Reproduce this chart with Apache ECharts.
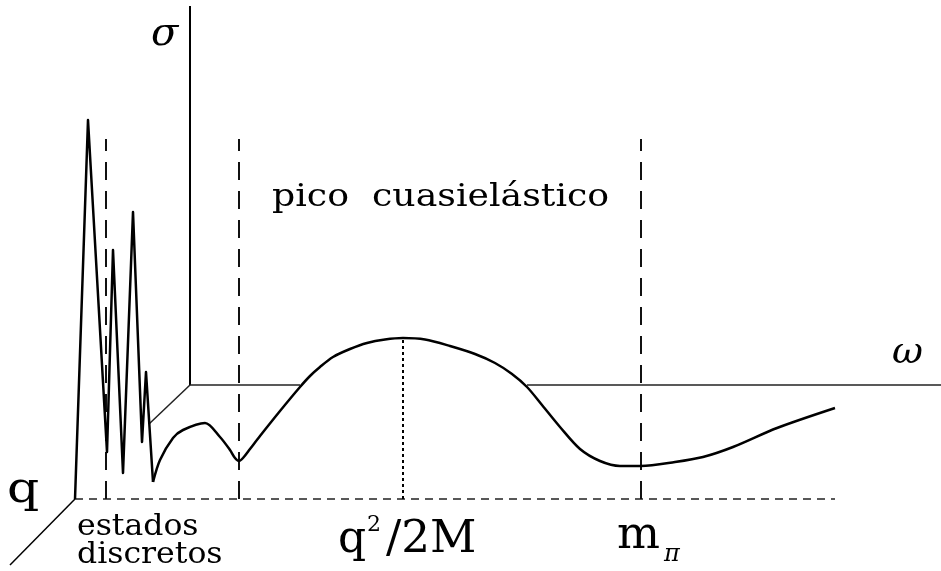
<!DOCTYPE html>
<html>
<head>
<meta charset="utf-8">
<script src="https://cdn.jsdelivr.net/npm/echarts@6/dist/echarts.min.js"></script>
<style>
  html, body { margin: 0; padding: 0; background: #fff; }
  #chart { width: 941px; height: 571px; }
</style>
</head>
<body>
<div id="chart"></div>
<script>
// omega / sigma measured from the front origin (q = 0 plane)
const peaksOmega = [0, 13, 32, 38, 48, 58, 67, 71, 78];
const peaksSigma = [0, 379, 47, 249, 26, 287, 57, 127, 17];

const contOmega = [78, 85, 98, 108, 130, 145, 155, 160, 164, 168, 175, 185, 205, 225, 235, 245, 258, 275, 292, 310, 328, 350, 375, 400, 420, 437, 452, 467, 485, 505, 525, 545, 566, 600, 628, 658, 702, 760];
const contSigma = [17, 39, 61, 69, 76, 62, 49, 41, 38, 41, 50, 63, 88, 112, 123, 132, 142, 150, 156, 159.5, 161, 159.5, 153, 145, 136, 125, 112, 94, 72, 50, 38, 33, 33, 37, 42, 52, 71, 91];

// back plane (shifted along q)
const backOrigin = [115, 114];
const sigmaTop = 493;
const omegaSegments = [[115, 225], [452, 866]];
const backDiagEnd = [74, 75];
const qAxisEnd = [-65, -66];
const baselineEnd = 760;

// vertical markers
const dashedOmega = [31, 164, 566];
const dashedTop = 360;
const peakOmega = 328;
const peakSigma = 161;

const zip = (xs, ys) => xs.map((x, i) => [x, ys[i]]);

function seg(data, style, z) {
  return {
    type: "line",
    data: data,
    symbol: "none",
    silent: true,
    animation: false,
    z: z || 2,
    lineStyle: style,
  };
}

const series = [];
series.push(seg([backOrigin, [backOrigin[0], sigmaTop]], { color: "#000", width: 2 }));
omegaSegments.forEach((s) => {
  series.push(seg([[s[0], backOrigin[1]], [s[1], backOrigin[1]]], { color: "#222", width: 1.5 }));
});
series.push(seg([backOrigin, backDiagEnd], { color: "#222", width: 1.5 }));
series.push(seg([[0, 0], qAxisEnd], { color: "#000", width: 1.5 }));
series.push(seg([[0, 0], [baselineEnd, 0]], { color: "#222", width: 1.5, type: [8, 6] }));
dashedOmega.forEach((w) => {
  series.push(seg([[w, 0], [w, dashedTop]], { color: "#111", width: 2, type: [18, 11] }));
});
series.push(seg([[peakOmega, 0], [peakOmega, peakSigma]], { color: "#000", width: 2, type: [3, 3] }));
series.push(seg(zip(peaksOmega, peaksSigma), { color: "#000", width: 2.5, join: "round" }, 5));
series.push(Object.assign(seg(zip(contOmega, contSigma), { color: "#000", width: 2.5 }, 5), { smooth: 0.3 }));

const serif = "DejaVu Serif";
function txt(text, left, top, size, extra, scaleX) {
  return {
    type: "text",
    left: left,
    top: top,
    scaleX: scaleX || 1,
    silent: true,
    style: Object.assign({ text: text, fontFamily: serif, fontSize: size, fill: "#000" }, extra || {}),
  };
}

const chart = echarts.init(document.getElementById("chart"), null, { renderer: "canvas" });
chart.setOption({
  backgroundColor: "#fff",
  animation: false,
  grid: { left: 0, right: 0, top: 0, bottom: 0 },
  xAxis: { type: "value", min: -75, max: 866, show: false },
  yAxis: { type: "value", min: -72, max: 499, show: false },
  series: series,
  graphic: [
    txt("σ", 151, 15, 40, { fontStyle: "italic" }),
    txt("ω", 892, 334, 38, { fontStyle: "italic" }),
    txt("q", 7, 470, 42, null, 1.2),
    txt("estados", 77, 512, 30, null, 1.05),
    txt("discretos", 77, 540, 30, null, 1.05),
    txt("pico  cuasielástico", 272, 182, 31, null, 1.17),
    txt("q", 338, 519, 44),
    txt("2", 367, 514, 22),
    txt("/2M", 386, 519, 44, null, 1.03),
    txt("m", 617, 515, 44, null, 1.03),
    txt("π", 664, 543, 24, { fontStyle: "italic" }),
  ],
});
</script>
</body>
</html>
